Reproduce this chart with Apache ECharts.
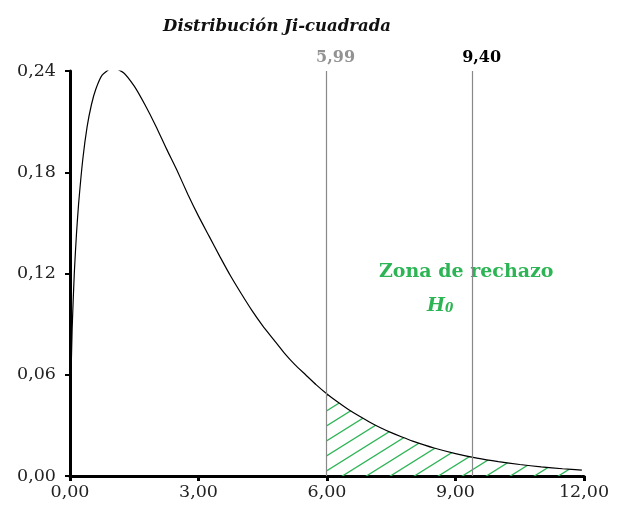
<!DOCTYPE html>
<html>
<head>
<meta charset="utf-8">
<script src="https://cdn.jsdelivr.net/npm/echarts@6/dist/echarts.min.js"></script>
<style>
  html, body { margin: 0; padding: 0; background: #fff; }
  #chart { width: 617px; height: 512px; }
</style>
</head>
<body>
<div id="chart"></div>
<script>
// valores (x, densidad)
const xs = [0.015, 0.05, 0.1, 0.15, 0.2, 0.3, 0.4, 0.5, 0.6, 0.75, 1.0, 1.25, 1.5, 1.75, 2.0,
  2.25, 2.5, 2.75, 3.0, 3.25, 3.5, 3.75, 4.0, 4.25, 4.5, 4.75, 5.0, 5.25, 5.5, 5.75, 6.0,
  6.25, 6.5, 6.75, 7.0, 7.25, 7.5, 7.75, 8.0, 8.5, 9.0, 9.5, 10.0, 10.5, 11.0, 11.5, 11.95]
const ys = [0.0485, 0.087, 0.120, 0.143, 0.161, 0.188, 0.207, 0.220, 0.229, 0.2375, 0.242, 0.239, 0.231, 0.220, 0.2076,
  0.194, 0.181, 0.167, 0.154, 0.142, 0.130, 0.1185, 0.108, 0.098, 0.089, 0.081, 0.073, 0.066, 0.060, 0.054, 0.0486,
  0.0438, 0.0394, 0.0355, 0.0319, 0.0286, 0.0257, 0.0231, 0.0207, 0.0166, 0.0133, 0.0106, 0.0085, 0.0068, 0.0054, 0.0043, 0.0035]
const criticos = [5.99, 9.40]
const inicioRechazo = 6.0
const xTicks = [0, 3, 6, 9, 12]
const yTicks = [0, 0.06, 0.12, 0.18, 0.24]

const curva = xs.map((x, i) => [x, ys[i]])
const cola = curva.filter(p => p[0] >= inicioRechazo)

const verde = '#2db455'

// patrón de rayado verde
function rayado() {
  const w = 24
  const h = 15
  const c = document.createElement('canvas')
  c.width = w
  c.height = h
  const ctx = c.getContext('2d')
  ctx.strokeStyle = verde
  ctx.lineWidth = 1.3
  for (let k = -1; k <= 1; k++) {
    ctx.beginPath()
    ctx.moveTo(-w, h + k * h + h)
    ctx.lineTo(2 * w, k * h - h)
    ctx.stroke()
  }
  return c
}

const fmt = v => v.toFixed(2).replace('.', ',')
const serif = 'DejaVu Serif'

const chart = echarts.init(document.getElementById('chart'))
const option = {
  animation: false,
  title: {
    text: 'Distribución Ji-cuadrada',
    left: 272,
    textAlign: 'center',
    top: 13,
    textStyle: { fontFamily: serif, fontSize: 16.5, fontWeight: 'bold', fontStyle: 'italic', color: '#111' }
  },
  grid: { left: 70, right: 33, top: 71, bottom: 36 },
  xAxis: {
    type: 'value',
    min: xTicks[0],
    max: xTicks[xTicks.length - 1],
    interval: 3,
    splitLine: { show: false },
    axisLine: { lineStyle: { color: '#000', width: 3 } },
    axisTick: { length: 5, lineStyle: { color: '#000', width: 3 } },
    axisLabel: { margin: 7, fontFamily: serif, fontSize: 17.5, color: '#222', formatter: fmt }
  },
  yAxis: {
    type: 'value',
    min: yTicks[0],
    max: yTicks[yTicks.length - 1],
    interval: 0.06,
    splitLine: { show: false },
    axisLine: { show: true, lineStyle: { color: '#000', width: 3 } },
    axisTick: { show: true, length: 5, lineStyle: { color: '#000', width: 2 } },
    axisLabel: { margin: 14, fontFamily: serif, fontSize: 17.5, color: '#222', formatter: fmt }
  },
  series: [
    {
      type: 'line',
      data: cola,
      symbol: 'none',
      lineStyle: { width: 0 },
      areaStyle: { color: { image: rayado(), repeat: 'repeat' }, opacity: 1 },
      z: 1
    },
    {
      type: 'line',
      data: curva,
      symbol: 'none',
      smooth: 0.2,
      lineStyle: { color: '#000', width: 1.2 },
      z: 3,
      markLine: {
        silent: true,
        symbol: 'none',
        lineStyle: { color: '#888', width: 1.2, type: 'solid' },
        data: [
          {
            xAxis: criticos[0],
            label: { formatter: fmt(criticos[0]), color: '#929292' }
          },
          {
            xAxis: criticos[1],
            label: { formatter: fmt(criticos[1]), color: '#000' }
          }
        ],
        label: {
          position: 'end',
          distance: 5,
          offset: [9, 0],
          fontFamily: serif,
          fontSize: 16,
          fontWeight: 'bold'
        }
      }
    }
  ]
}
chart.setOption(option)

const p1 = chart.convertToPixel({ gridIndex: 0 }, [9.25, 0.121])
const p2 = chart.convertToPixel({ gridIndex: 0 }, [8.64, 0.101])
chart.setOption({
  graphic: [
    {
      type: 'text',
      x: p1[0],
      y: p1[1],
      style: {
        text: 'Zona de rechazo',
        fill: verde,
        font: 'bold 19px "DejaVu Serif"',
        align: 'center',
        verticalAlign: 'middle'
      }
    },
    {
      type: 'text',
      x: p2[0],
      y: p2[1],
      style: {
        text: '{h|H}{s|0}',
        align: 'center',
        verticalAlign: 'middle',
        rich: {
          h: { fill: verde, fontFamily: serif, fontSize: 19, fontWeight: 'bold', fontStyle: 'italic' },
          s: { fill: verde, fontFamily: serif, fontSize: 12, fontWeight: 'bold', fontStyle: 'italic', padding: [7, 0, 0, 0] }
        }
      }
    }
  ]
})
</script>
</body>
</html>
